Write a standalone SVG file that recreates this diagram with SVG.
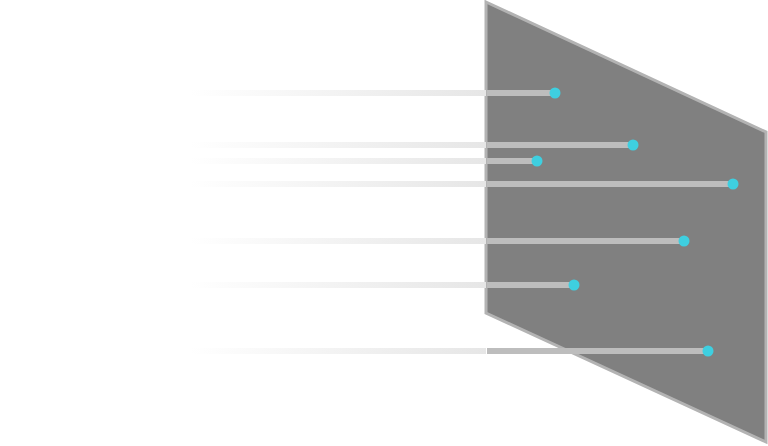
<svg xmlns="http://www.w3.org/2000/svg" width="768" height="446" viewBox="0 0 768 446">
<defs>
<linearGradient id="fade" gradientUnits="userSpaceOnUse" x1="190" y1="0" x2="486" y2="0">
<stop offset="0" stop-color="#e6e6e6" stop-opacity="0"/>
<stop offset="1" stop-color="#e6e6e6" stop-opacity="1"/>
</linearGradient>
<style>
.ray{stroke:url(#fade);stroke-width:6}
.on{stroke:#bdbdbd;stroke-width:6}
.dot{fill:#3ecfe0}
</style>
</defs>
<g id="plane">
<polygon points="486,2 766,132 766,442 486,313" fill="#808080" stroke="#b3b3b3" stroke-width="3"/>
</g>
<g id="connectors">
<line class="ray" x1="190" y1="93" x2="486" y2="93"/><line class="on" x1="487" y1="93" x2="555" y2="93"/><circle class="dot" cx="555" cy="93" r="5.5"/>
<line class="ray" x1="190" y1="145" x2="486" y2="145"/><line class="on" x1="487" y1="145" x2="633" y2="145"/><circle class="dot" cx="633" cy="145" r="5.5"/>
<line class="ray" x1="190" y1="161" x2="486" y2="161"/><line class="on" x1="487" y1="161" x2="537" y2="161"/><circle class="dot" cx="537" cy="161" r="5.5"/>
<line class="ray" x1="190" y1="184" x2="486" y2="184"/><line class="on" x1="487" y1="184" x2="733" y2="184"/><circle class="dot" cx="733" cy="184" r="5.5"/>
<line class="ray" x1="190" y1="241" x2="486" y2="241"/><line class="on" x1="487" y1="241" x2="684" y2="241"/><circle class="dot" cx="684" cy="241" r="5.5"/>
<line class="ray" x1="190" y1="285" x2="486" y2="285"/><line class="on" x1="487" y1="285" x2="574" y2="285"/><circle class="dot" cx="574" cy="285" r="5.5"/>
<line class="ray" x1="190" y1="351" x2="486" y2="351"/><line class="on" x1="487" y1="351" x2="708" y2="351"/><circle class="dot" cx="708" cy="351" r="5.5"/>
</g>
</svg>
